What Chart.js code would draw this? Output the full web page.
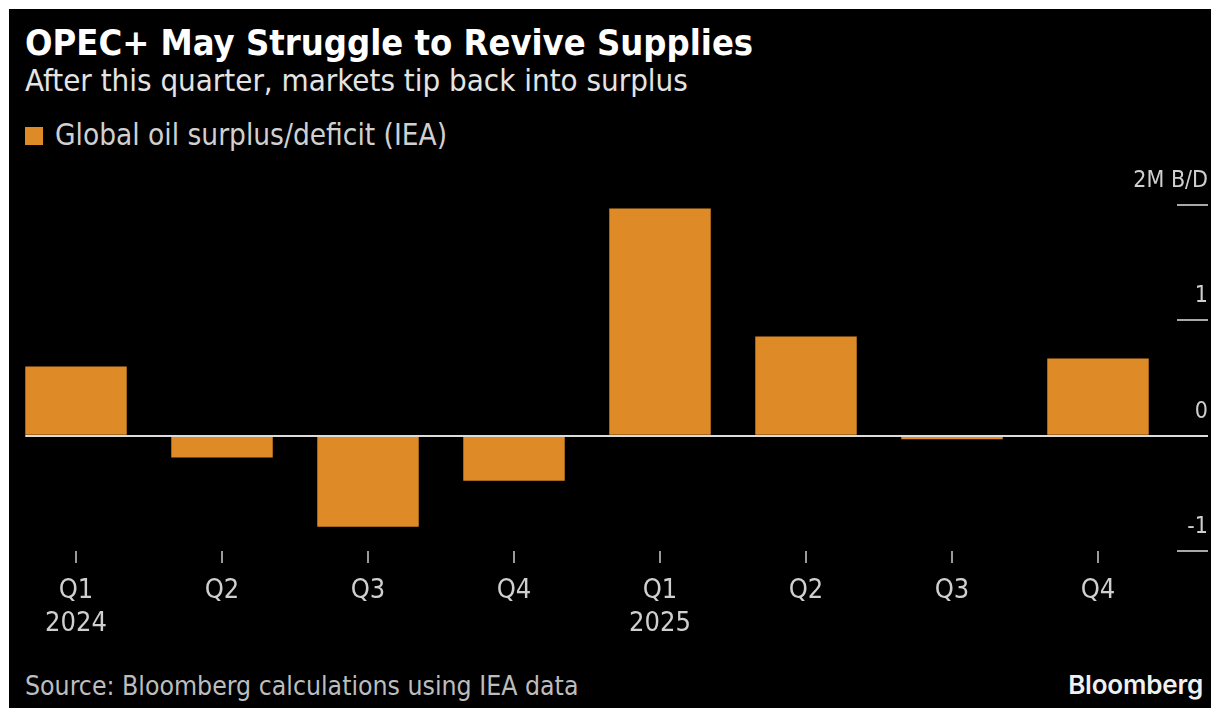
<!DOCTYPE html>
<html>
<head>
<meta charset="utf-8">
<script src="https://cdn.jsdelivr.net/npm/chart.js@4/dist/chart.umd.min.js"></script>
<style>
  html,body{margin:0;padding:0;background:#fff;width:1218px;height:716px;overflow:hidden}
  #frame{position:absolute;left:9px;top:9px;width:1202px;height:699px;background:#000}
  .t{position:absolute;white-space:nowrap;font-family:"DejaVu Sans Condensed","DejaVu Sans",sans-serif}
  #title{left:25px;top:22px;font-size:36px;font-weight:bold;color:#fff}
  #sub{left:25px;top:62px;font-size:31px;color:#e4e4e4}
  #legend{left:25px;top:118px;font-size:29.5px;color:#d0d0d0}
  #legend i{display:inline-block;width:18px;height:18px;background:#de8a26;margin-right:12px;vertical-align:0px}
  #source{left:25px;top:670px;font-size:26.4px;color:#bdbdbd}
  #logo{right:15px;top:669px;font-family:Inter,"Open Sans",sans-serif;font-weight:600;font-size:26px;color:#f0f0f0;letter-spacing:-0.2px}
  #wrap{position:absolute;left:0;top:0;width:1218px;height:716px}
</style>
</head>
<body>
<div id="frame"></div>
<div class="t" id="title">OPEC+ May Struggle to Revive Supplies</div>
<div class="t" id="sub">After this quarter, markets tip back into surplus</div>
<div class="t" id="legend"><i></i>Global oil surplus/deficit (IEA)</div>
<div class="t" id="source">Source: Bloomberg calculations using IEA data</div>
<div class="t" id="logo">Bloomberg</div>
<div id="wrap"><canvas id="c"></canvas></div>
<script>
const quarters = [['Q1','2024'],['Q2',''],['Q3',''],['Q4',''],['Q1','2025'],['Q2',''],['Q3',''],['Q4','']]
const balance = [0.60, -0.19, -0.79, -0.39, 1.97, 0.86, -0.03, 0.67]
const yTicks = [-1, 0, 1, 2]
const yUnit = 'M B/D'

const orange = '#de8a26'
const axisFamily = '"DejaVu Sans Condensed","DejaVu Sans",sans-serif'

const zeroLine = {
  id:'zeroLine',
  afterDatasetsDraw(chart){
    const y = chart.scales.y
    const bars = chart.getDatasetMeta(0).data
    const py = Math.round(y.getPixelForValue(0))
    const ctx = chart.ctx
    ctx.save()
    ctx.strokeStyle = '#dcdcdc'
    ctx.lineWidth = 2
    ctx.beginPath()
    ctx.moveTo(bars[0].x - bars[0].width/2, py)
    ctx.lineTo(y.right, py)
    ctx.stroke()
    ctx.restore()
  }
}

new Chart(document.getElementById('c'), {
  type:'bar',
  data:{
    labels:quarters,
    datasets:[{data:balance, backgroundColor:orange, borderWidth:0, categoryPercentage:0.695, barPercentage:1}]
  },
  options:{
    responsive:true,
    maintainAspectRatio:false,
    animation:false,
    layout:{padding:{left:3, right:10, top:205, bottom:0}},
    plugins:{legend:{display:false}, tooltip:{enabled:false}},
    scales:{
      x:{
        offset:true,
        border:{display:false},
        grid:{display:true, drawOnChartArea:false, drawTicks:true, offset:false, tickLength:12, tickColor:'#9a9a9a', lineWidth:2},
        ticks:{color:'#cfcfcf', font:{family:axisFamily, size:27, lineHeight:1.22}, padding:12, maxRotation:0, autoSkip:false},
        afterFit(s){ s.height = 716 - 551 }
      },
      y:{
        position:'right',
        min:yTicks[0],
        max:yTicks[yTicks.length-1],
        border:{display:false},
        afterBuildTicks(s){ s.ticks = yTicks.map(v=>({value:v})) },
        afterFit(s){ s.width = 37 },
        grid:{drawOnChartArea:false, drawTicks:true, tickLength:37, tickColor:'#a8a8a8', lineWidth:2, tickBorderDash:[0,6,31,0]},
        ticks:{
          color:'#cfcfcf', font:{family:axisFamily, size:23}, mirror:true, crossAlign:'near', padding:37, labelOffset:-24,
          callback:v => v === yTicks[yTicks.length-1] ? v + yUnit : String(v)
        }
      }
    }
  },
  plugins:[zeroLine]
})
</script>
</body>
</html>
